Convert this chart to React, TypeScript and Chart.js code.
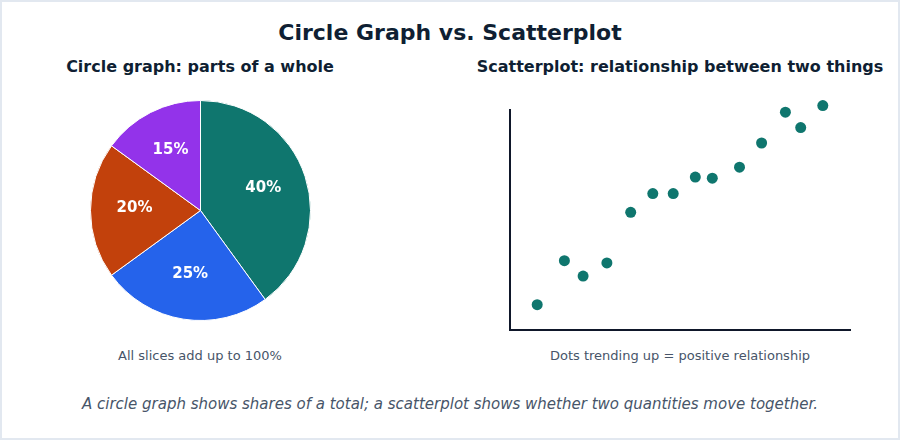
import { useRef, useEffect } from "react";
import { Chart, registerables } from "chart.js";

Chart.register(...registerables);

const FONT = "'DejaVu Sans', sans-serif";

// circle graph
const sliceLabels = ["A", "B", "C", "D"];
const sliceValues = [40, 25, 20, 15];
const sliceColors = ["#0f766e", "#2563eb", "#c2410c", "#9333ea"];

// scatterplot
const scatterX = [8, 16, 21.5, 28.5, 35.5, 42, 48, 54.5, 59.5, 67.5, 74, 81, 85.5, 92];
const scatterY = [11.5, 31.5, 24.5, 30.5, 53.5, 62, 62, 69.5, 69, 74, 85, 99, 92, 102];

// draws the percent in each slice
const sliceLabelPlugin = {
  id: "sliceLabels",
  afterDatasetsDraw(chart: Chart) {
    const { ctx } = chart;
    const meta = chart.getDatasetMeta(0);
    const total = sliceValues.reduce((a, b) => a + b, 0);
    ctx.save();
    ctx.fillStyle = "#ffffff";
    ctx.font = `bold 15px ${FONT}`;
    ctx.textAlign = "center";
    ctx.textBaseline = "middle";
    meta.data.forEach((arc: any, i) => {
      const { x, y, startAngle, endAngle, outerRadius } = arc.getProps(
        ["x", "y", "startAngle", "endAngle", "outerRadius"],
        true
      );
      const mid = (startAngle + endAngle) / 2;
      const r = outerRadius * 0.6;
      const pct = Math.round((sliceValues[i] / total) * 100);
      ctx.fillText(`${pct}%`, x + Math.cos(mid) * r, y + Math.sin(mid) * r - 2);
    });
    ctx.restore();
  },
};

const PieChart = () => {
  const canvasRef = useRef<HTMLCanvasElement>(null);
  const chartInstance = useRef<Chart | null>(null);

  useEffect(() => {
    if (!canvasRef.current) return;
    if (chartInstance.current) chartInstance.current.destroy();

    chartInstance.current = new Chart(canvasRef.current, {
      type: "pie",
      data: {
        labels: sliceLabels,
        datasets: [
          {
            data: sliceValues,
            backgroundColor: sliceColors,
            borderColor: "#ffffff",
            borderWidth: 1,
          },
        ],
      },
      options: {
        responsive: false,
        animation: false,
        layout: { padding: 0 },
        plugins: {
          legend: { display: false },
          tooltip: { enabled: false },
        },
      },
      plugins: [sliceLabelPlugin],
    });

    return () => {
      chartInstance.current?.destroy();
      chartInstance.current = null;
    };
  }, []);

  return (
    <canvas
      ref={canvasRef}
      width={221}
      height={221}
      style={{ position: "absolute", left: 89.5, top: 99.5, width: 221, height: 221 }}
    />
  );
};

const ScatterChart = () => {
  const canvasRef = useRef<HTMLCanvasElement>(null);
  const chartInstance = useRef<Chart | null>(null);

  useEffect(() => {
    if (!canvasRef.current) return;
    if (chartInstance.current) chartInstance.current.destroy();

    chartInstance.current = new Chart(canvasRef.current, {
      type: "scatter",
      data: {
        datasets: [
          {
            data: scatterX.map((x, i) => ({ x, y: scatterY[i] })),
            backgroundColor: "#0f766e",
            borderWidth: 0,
            pointRadius: 5.5,
            clip: false,
          },
        ],
      },
      options: {
        responsive: false,
        animation: false,
        layout: { padding: 10 },
        plugins: {
          legend: { display: false },
          tooltip: { enabled: false },
        },
        scales: {
          x: {
            min: 0,
            max: 100,
            ticks: { display: false },
            grid: { display: false, drawTicks: false },
            border: { display: true, color: "#0f172a", width: 2 },
          },
          y: {
            min: 0,
            max: 100,
            ticks: { display: false },
            grid: { display: false, drawTicks: false },
            border: { display: true, color: "#0f172a", width: 2 },
          },
        },
      },
    });

    return () => {
      chartInstance.current?.destroy();
      chartInstance.current = null;
    };
  }, []);

  return (
    <canvas
      ref={canvasRef}
      width={360}
      height={240}
      style={{ position: "absolute", left: 500, top: 100, width: 360, height: 240 }}
    />
  );
};

const textStyle = (
  top: number,
  center: number,
  size: number,
  color: string,
  extra: React.CSSProperties = {}
): React.CSSProperties => ({
  position: "absolute",
  top,
  left: center - 450,
  width: 900,
  textAlign: "center",
  fontSize: size,
  color,
  lineHeight: 1,
  whiteSpace: "nowrap",
  ...extra,
});

const App = () => {
  return (
    <div
      style={{
        position: "fixed",
        left: 0,
        top: 0,
        width: 900,
        height: 440,
        boxSizing: "border-box",
        border: "2px solid #e2e8f0",
        background: "#ffffff",
        fontFamily: FONT,
        overflow: "hidden",
      }}
    >
      <div style={{ position: "absolute", left: -2, top: -2, width: 900, height: 440 }}>
        <div style={textStyle(22, 450, 22, "#0f1f33", { fontWeight: "bold" })}>
          Circle Graph vs. Scatterplot
        </div>
        <div style={textStyle(59, 200, 16, "#0f1f33", { fontWeight: "bold" })}>
          Circle graph: parts of a whole
        </div>
        <div style={textStyle(59, 680, 16, "#0f1f33", { fontWeight: "bold" })}>
          Scatterplot: relationship between two things
        </div>
        <PieChart />
        <ScatterChart />
        <div style={textStyle(349, 200, 13, "#475569")}>All slices add up to 100%</div>
        <div style={textStyle(349, 680, 13, "#475569")}>
          Dots trending up = positive relationship
        </div>
        <div style={textStyle(397, 450, 15, "#475569", { fontStyle: "italic" })}>
          A circle graph shows shares of a total; a scatterplot shows whether two quantities move
          together.
        </div>
      </div>
    </div>
  );
};

export default App;
